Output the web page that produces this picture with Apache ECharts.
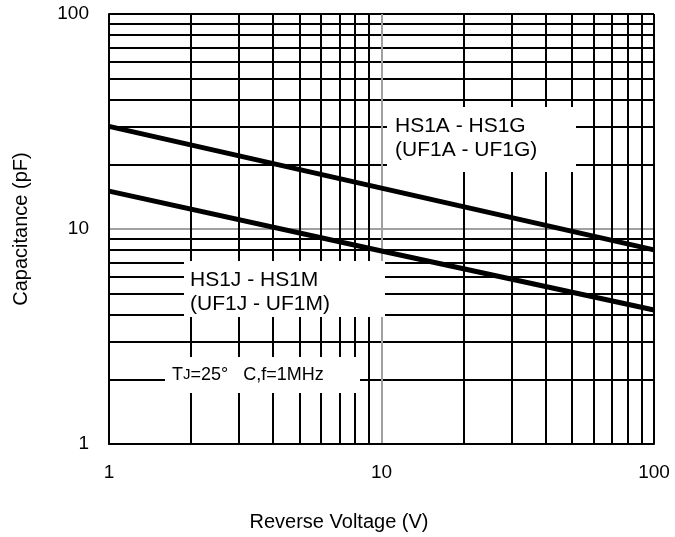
<!DOCTYPE html>
<html><head><meta charset="utf-8">
<script src="https://cdn.jsdelivr.net/npm/echarts@6/dist/echarts.min.js"></script>
<style>html,body{margin:0;padding:0;background:#fff}#c{width:675px;height:537px}</style>
</head><body><div id="c"></div>
<script>
const voltage = [1, 10, 100];
const capHS1A_G = [30, 15.5, 8];
const capHS1J_M = [15, 7.9, 4.2];
const xTicks = [1, 10, 100];
const yTicks = [1, 10, 100];
const labelAG = ['HS1A - HS1G', '(UF1A - UF1G)'];
const labelJM = ['HS1J - HS1M', '(UF1J - UF1M)'];
const xTitle = 'Reverse Voltage (V)';
const yTitle = 'Capacitance (pF)';

const FONT = 'Liberation Sans, Arial, sans-serif';
const chart = echarts.init(document.getElementById('c'), null, {renderer: 'canvas'});
const pair = (xs, ys) => xs.map((x, i) => [x, ys[i]]);

const axisCommon = {
  type: 'log', logBase: 10, min: 1, max: 100,
  axisTick: {show: false},
  axisLine: {show: true, lineStyle: {color: '#000', width: 2}},
  splitLine: {show: true, lineStyle: {color: ['#000', '#a0a0a0', '#000'], width: 2}},
  minorTick: {show: false, splitNumber: 9},
  minorSplitLine: {show: true, lineStyle: {color: '#000', width: 2}},
  axisLabel: {color: '#000', fontSize: 19, fontFamily: FONT}
};

chart.setOption({
  animation: false,
  backgroundColor: '#fff',
  grid: {left: 109, right: 21, top: 14, bottom: 90, show: false},
  xAxis: Object.assign({}, axisCommon, {
    axisLabel: Object.assign({}, axisCommon.axisLabel, {margin: 19}),
    name: xTitle, nameLocation: 'middle', nameGap: 68,
    nameTextStyle: {color: '#000', fontSize: 20, fontFamily: FONT, padding: [0, 85, 0, 0]}
  }),
  yAxis: Object.assign({}, axisCommon, {
    axisLabel: Object.assign({}, axisCommon.axisLabel, {margin: 20}),
    name: yTitle, nameLocation: 'middle', nameGap: 78,
    nameTextStyle: {color: '#000', fontSize: 20, fontFamily: FONT, padding: [0, 0, 0, 0]}
  }),
  graphic: [
    {type: 'rect', z: 1, shape: {x: 387, y: 107, width: 189, height: 65}, style: {fill: '#fff'}},
    {type: 'text', z: 1, style: {x: 395, y: 114, text: labelAG.join('\n'), font: '21px ' + FONT, lineHeight: 24, fill: '#000', verticalAlign: 'top'}},
    {type: 'rect', z: 1, shape: {x: 184, y: 261, width: 201, height: 56}, style: {fill: '#fff'}},
    {type: 'text', z: 1, style: {x: 190, y: 268, text: labelJM.join('\n'), font: '21px ' + FONT, lineHeight: 24, fill: '#000', verticalAlign: 'top'}},
    {type: 'rect', z: 1, shape: {x: 165, y: 357, width: 195, height: 36}, style: {fill: '#fff'}},
    {type: 'text', z: 1, style: {x: 172, y: 375, verticalAlign: 'middle',
      text: '{a|T}{b|J}{a|=25°   C,f=1MHz}',
      rich: {a: {fontSize: 18, fontFamily: FONT, fill: '#000'}, b: {fontSize: 15, fontFamily: FONT, fill: '#000'}}}}
  ],
  series: [
    {type: 'line', data: pair(voltage, capHS1A_G), symbol: 'none', z: 3, lineStyle: {color: '#000', width: 5}},
    {type: 'line', data: pair(voltage, capHS1J_M), symbol: 'none', z: 3, lineStyle: {color: '#000', width: 5}}
  ]
});
</script></body></html>
